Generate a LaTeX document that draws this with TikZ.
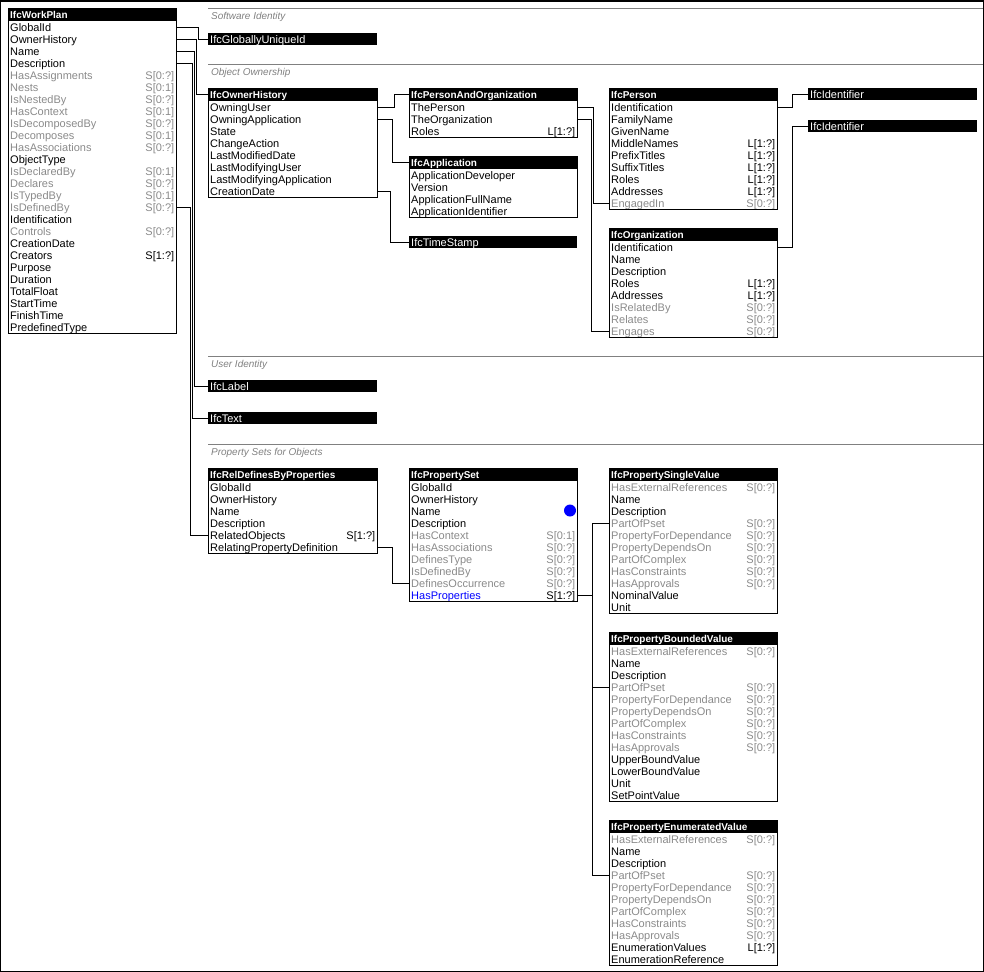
\documentclass[tikz,border=0pt]{standalone}
\usepackage{fontspec}
\setmainfont{Liberation Sans}
\definecolor{cN}{RGB}{0,0,0}
\definecolor{cNc}{RGB}{0,0,0}
\definecolor{cG}{RGB}{138,138,138}
\definecolor{cGc}{RGB}{138,138,138}
\definecolor{cB}{RGB}{0,0,255}
\definecolor{cBc}{RGB}{0,0,0}
\definecolor{secgray}{RGB}{128,128,128}
\tikzset{
  titlebar/.style={fill=black, text=white, font=\bfseries, inner xsep=2bp, inner ysep=0pt,
    minimum height=13bp, text height=9bp, text depth=1bp, anchor=north west},
  typebar/.style={fill=black, text=white, inner xsep=2bp, inner ysep=0pt,
    minimum height=12bp, text height=9bp, text depth=1bp, anchor=north west},
  rowbox/.style={inner xsep=2bp, inner ysep=0pt, minimum height=12bp,
    text height=9bp, text depth=1bp, anchor=north west},
  boxline/.style={draw=black, line width=1bp},
  conn/.style={draw=black, line width=1bp},
  secline/.style={draw=secgray, line width=1bp},
  seclabel/.style={text=secgray, font=\itshape, inner sep=0pt, anchor=base west},
}
% #1 name, #2 x, #3 top, #4 width, #5 title, #6 rows count, #7 rows
\newcommand\ifcentity[7]{%
  \node[titlebar, minimum width=#4bp] (#1) at (#2,#3)
    {\makebox[\dimexpr#4bp-4bp\relax][l]{#5}};
  \foreach [count=\i] \ra/\rb/\rc in {#7} {
    \node[rowbox, minimum width=#4bp] (#1-\i) at (#2,{#3+13+12*(\i-1)})
      {\makebox[\dimexpr#4bp-4bp\relax][l]{\textcolor{c\rc}{\ra}\hfill\textcolor{c\rc c}{\rb}}};
  }
  \draw[boxline] (#2,#3) rectangle ({#2+#4},{#3+13+12*#6});
}
% #1 name, #2 x, #3 top, #4 width, #5 text
\newcommand\ifctype[5]{%
  \node[typebar, minimum width=#4bp] (#1) at (#2,#3)
    {\makebox[\dimexpr#4bp-4bp\relax][l]{#5}};
}
\begin{document}
\begin{tikzpicture}[x=1bp, y=-1bp, font=\fontsize{11bp}{12bp}\selectfont]
\useasboundingbox (0,0) rectangle (984,972);
\draw[line width=1.5bp] (0.75,0.75) rectangle (983.25,971.25);

% section separators
\draw[secline] (208,8) -- (983,8);
\node[seclabel] (s1) at (211,19) {Software Identity};
\draw[secline] (208,64) -- (983,64);
\node[seclabel] (s2) at (211,75) {Object Ownership};
\draw[secline] (208,356) -- (983,356);
\node[seclabel] (s3) at (211,367) {User Identity};
\draw[secline] (208,444) -- (983,444);
\node[seclabel] (s4) at (211,455) {Property Sets for Objects};

\ifcentity{wp}{8}{8}{168}{IfcWorkPlan}{26}{GlobalId//N, OwnerHistory//N, Name//N, Description//N,
  HasAssignments/S[0:?]/G, Nests/S[0:1]/G, IsNestedBy/S[0:?]/G, HasContext/S[0:1]/G,
  IsDecomposedBy/S[0:?]/G, Decomposes/S[0:1]/G, HasAssociations/S[0:?]/G, ObjectType//N,
  IsDeclaredBy/S[0:1]/G, Declares/S[0:?]/G, IsTypedBy/S[0:1]/G, IsDefinedBy/S[0:?]/G,
  Identification//N, Controls/S[0:?]/G, CreationDate//N, Creators/S[1:?]/N, Purpose//N,
  Duration//N, TotalFloat//N, StartTime//N, FinishTime//N, PredefinedType//N}

\ifctype{gu}{208}{33}{169}{IfcGloballyUniqueId}

\ifcentity{oh}{208}{88}{169}{IfcOwnerHistory}{8}{OwningUser//N, OwningApplication//N, State//N,
  ChangeAction//N, LastModifiedDate//N, LastModifyingUser//N, LastModifyingApplication//N,
  CreationDate//N}

\ifcentity{pao}{409}{88}{168}{IfcPersonAndOrganization}{3}{ThePerson//N, TheOrganization//N,
  Roles/L[1:?]/N}

\ifcentity{app}{409}{156}{168}{IfcApplication}{4}{ApplicationDeveloper//N, Version//N,
  ApplicationFullName//N, ApplicationIdentifier//N}

\ifctype{ts}{409}{236}{168}{IfcTimeStamp}

\ifcentity{per}{609}{88}{168}{IfcPerson}{9}{Identification//N, FamilyName//N, GivenName//N,
  MiddleNames/L[1:?]/N, PrefixTitles/L[1:?]/N, SuffixTitles/L[1:?]/N, Roles/L[1:?]/N,
  Addresses/L[1:?]/N, EngagedIn/S[0:?]/G}

\ifcentity{org}{609}{228}{168}{IfcOrganization}{8}{Identification//N, Name//N, Description//N,
  Roles/L[1:?]/N, Addresses/L[1:?]/N, IsRelatedBy/S[0:?]/G, Relates/S[0:?]/G, Engages/S[0:?]/G}

\ifctype{id1}{808}{88}{169}{IfcIdentifier}
\ifctype{id2}{808}{120}{169}{IfcIdentifier}

\ifctype{lab}{208}{380}{169}{IfcLabel}
\ifctype{txt}{208}{412}{169}{IfcText}

\ifcentity{rdp}{208}{468}{169}{IfcRelDefinesByProperties}{6}{GlobalId//N, OwnerHistory//N,
  Name//N, Description//N, RelatedObjects/S[1:?]/N, RelatingPropertyDefinition//N}

\ifcentity{ps}{409}{468}{168}{IfcPropertySet}{10}{GlobalId//N, OwnerHistory//N, Name//N,
  Description//N, HasContext/S[0:1]/G, HasAssociations/S[0:?]/G, DefinesType/S[0:?]/G,
  IsDefinedBy/S[0:?]/G, DefinesOccurrence/S[0:?]/G, HasProperties/S[1:?]/B}
\node[circle, fill=blue, minimum size=12bp, inner sep=0pt] (dot) at (570,510.5) {};

\ifcentity{sv}{609}{468}{168}{IfcPropertySingleValue}{11}{HasExternalReferences/S[0:?]/G,
  Name//N, Description//N, PartOfPset/S[0:?]/G, PropertyForDependance/S[0:?]/G,
  PropertyDependsOn/S[0:?]/G, PartOfComplex/S[0:?]/G, HasConstraints/S[0:?]/G,
  HasApprovals/S[0:?]/G, NominalValue//N, Unit//N}

\ifcentity{bv}{609}{632}{168}{IfcPropertyBoundedValue}{13}{HasExternalReferences/S[0:?]/G,
  Name//N, Description//N, PartOfPset/S[0:?]/G, PropertyForDependance/S[0:?]/G,
  PropertyDependsOn/S[0:?]/G, PartOfComplex/S[0:?]/G, HasConstraints/S[0:?]/G,
  HasApprovals/S[0:?]/G, UpperBoundValue//N, LowerBoundValue//N, Unit//N, SetPointValue//N}

\ifcentity{ev}{609}{820}{168}{IfcPropertyEnumeratedValue}{11}{HasExternalReferences/S[0:?]/G,
  Name//N, Description//N, PartOfPset/S[0:?]/G, PropertyForDependance/S[0:?]/G,
  PropertyDependsOn/S[0:?]/G, PartOfComplex/S[0:?]/G, HasConstraints/S[0:?]/G,
  HasApprovals/S[0:?]/G, EnumerationValues/L[1:?]/N, EnumerationReference//N}

% connectors
\draw[conn] (wp-1.east) -- ++(22,0) |- (gu.west);
\draw[conn] (wp-2.east) -- ++(20,0) |- (oh.west);
\draw[conn] (wp-3.east) -- ++(18,0) |- (lab.west);
\draw[conn] (wp-4.east) -- ++(16,0) |- (txt.west);
\draw[conn] (wp-16.east) -- ++(14,0) |- (rdp-5.west);
\draw[conn] (oh-1.east) -- ++(17,0) |- (pao.west);
\draw[conn] (oh-2.east) -- ++(15,0) |- (app.west);
\draw[conn] (oh-8.east) -- ++(13,0) |- (ts.west);
\draw[conn] (pao-1.east) -- ++(16,0) |- (per-9.west);
\draw[conn] (pao-2.east) -- ++(14,0) |- (org-8.west);
\draw[conn] (per-1.east) -- ++(15,0) |- (id1.west);
\draw[conn] (org-1.east) -- ++(15,0) |- (id2.west);
\draw[conn] (rdp-6.east) -- ++(15,0) |- (ps-9.west);
\draw[conn] (ps-10.east) -- ++(15,0);
\draw[conn] (sv-4.west) -- ++(-17,0) |- (ev-4.west);
\draw[conn] (bv-4.west) -- ++(-17,0);
\end{tikzpicture}
\end{document}
